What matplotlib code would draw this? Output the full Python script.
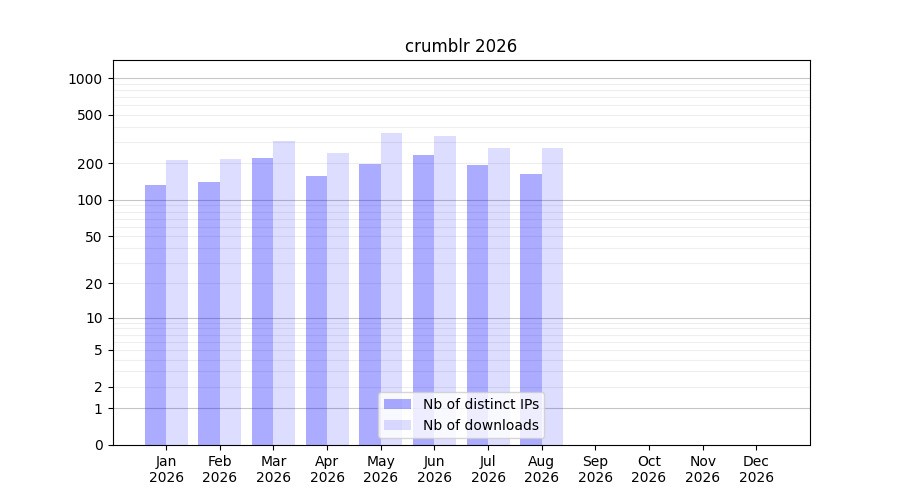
import numpy as np
import matplotlib
matplotlib.use("Agg")
import matplotlib.pyplot as plt

months = ["Jan", "Feb", "Mar", "Apr", "May", "Jun", "Jul", "Aug", "Sep", "Oct", "Nov", "Dec"]
year = "2026"
distinct_ips = [133, 141, 221, 157, 197, 234, 194, 163]
downloads = [214, 218, 305, 243, 355, 335, 267, 267]
ytick_values = [0, 1, 2, 5, 10, 20, 50, 100, 200, 500, 1000]
major_grid = [1, 10, 100, 1000]
minor_grid = [m * d for d in [1, 10, 100] for m in range(2, 10)]

fig, ax = plt.subplots(figsize=(9, 5), dpi=100)
ax.set_yscale("function", functions=(lambda v: np.log10(1 + np.maximum(v, 0)),
                                     lambda v: 10 ** v - 1))

x = np.arange(1, len(months) + 1)
w = 0.4
n = len(distinct_ips)
ax.bar(x[:n] - w / 2, distinct_ips, width=w, color="blue", alpha=0.33,
       label="Nb of distinct IPs", zorder=2)
ax.bar(x[:n] + w / 2, downloads, width=w, color="blue", alpha=0.133,
       label="Nb of downloads", zorder=2)

for v in major_grid:
    ax.axhline(v, color="gray", alpha=0.45, lw=0.8, zorder=1)
for v in minor_grid:
    ax.axhline(v, color="gray", alpha=0.13, lw=0.8, zorder=1)

ax.set_ylim(0, 1406)
ax.set_xlim(0, 13)
ax.set_yticks(ytick_values)
ax.set_yticklabels([str(v) for v in ytick_values])
ax.yaxis.set_minor_locator(matplotlib.ticker.NullLocator())
ax.set_xticks(x)
ax.set_xticklabels([f"{m}\n{year}" for m in months])
ax.set_title(f"crumblr {year}")
ax.legend(loc="lower center")

fig.savefig("out.png")
